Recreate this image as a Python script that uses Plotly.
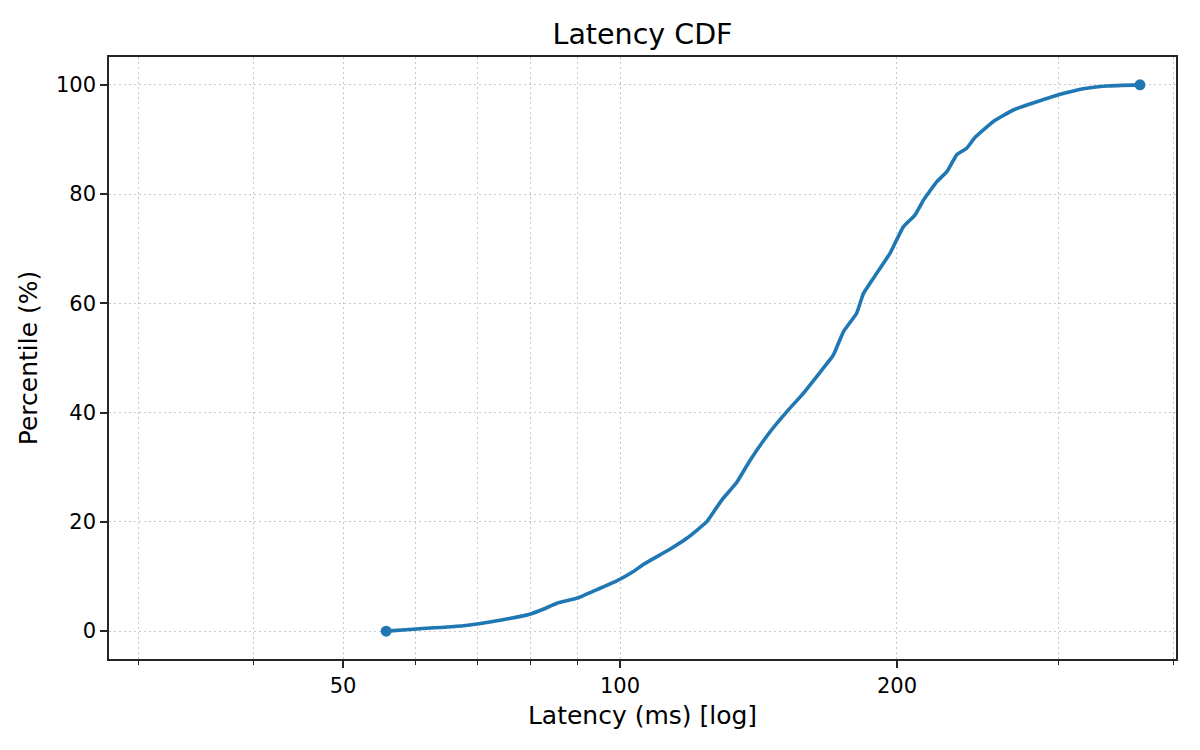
"""Latency CDF chart, log-scaled latency axis"""

import plotly.graph_objects as go

# latency (ms) at each percentile
latency_ms = [
    55.7, 60.1, 67.6, 74.6, 79.8, 82.5, 85.4, 90.1, 93.2, 99.2,
    103.4, 106.0, 113.3, 118.2, 124.2, 129.0, 133.9, 138.5, 145.6, 152.4,
    157.6, 165.7, 170.5, 174.9, 180.8, 183.9, 190.1, 196.6, 203.2, 209.3,
    213.7, 221.0, 226.6, 232.3, 238.1, 243.2, 254.6, 267.6, 283.8, 304.5,
    318.8, 338.1, 367.4,
]
percentile = [
    0.0, 0.4, 1.0, 2.1, 3.1, 4.0, 5.1, 6.1, 7.2, 9.2,
    10.9, 12.2, 15.0, 17.0, 20.0, 24.0, 27.2, 31.3, 36.5, 40.5,
    43.2, 47.8, 50.5, 54.8, 58.2, 61.8, 65.5, 69.2, 74.0, 76.2,
    78.9, 82.3, 84.1, 87.2, 88.4, 90.4, 93.3, 95.4, 96.9, 98.5,
    99.3, 99.8, 100.0,
]

x_major = [50, 100, 200]
x_minor = [30, 40, 60, 70, 80, 90, 300, 400]
y_ticks = [0, 20, 40, 60, 80, 100]

BLUE = "#1f77b4"
FONT = "DejaVu Sans"
GRID = "#c8c8c8"
AXIS = "#262626"
DOTS = "2px,3px"

fig = go.Figure()
fig.add_scatter(
    x=latency_ms,
    y=percentile,
    mode="lines",
    line={"color": BLUE, "width": 3.6, "shape": "spline", "smoothing": 0.4},
    showlegend=False,
)
# end markers at the first and last sample
fig.add_scatter(
    x=[latency_ms[0], latency_ms[-1]],
    y=[percentile[0], percentile[-1]],
    mode="markers",
    marker={"color": BLUE, "size": 11},
    showlegend=False,
)

fig.update_layout(
    width=1200,
    height=750,
    margin={"l": 101, "r": 32, "t": 49, "b": 99},
    paper_bgcolor="white",
    plot_bgcolor="white",
    font={"family": FONT, "color": "black", "size": 21},
    title={
        "text": "Latency CDF",
        "x": 0.5,
        "xanchor": "center",
        "xref": "paper",
        "y": 1 - 26 / 750,
        "yanchor": "middle",
        "font": {"size": 28.5, "family": FONT, "color": "black"},
    },
)

fig.update_xaxes(
    type="log",
    range=[1.4446, 2.6043],
    tickvals=x_major,
    ticktext=[str(v) for v in x_major],
    ticks="outside",
    ticklen=7,
    tickwidth=1.5,
    tickcolor=AXIS,
    showline=True,
    linecolor=AXIS,
    linewidth=1.6,
    mirror=True,
    showgrid=True,
    gridcolor=GRID,
    griddash=DOTS,
    gridwidth=1,
    zeroline=False,
    minor={
        "tickvals": x_minor,
        "ticks": "outside",
        "ticklen": 4,
        "tickwidth": 1,
        "tickcolor": AXIS,
        "showgrid": True,
        "gridcolor": GRID,
        "griddash": DOTS,
        "gridwidth": 1,
    },
    title={"text": "Latency (ms) [log]", "font": {"size": 25}, "standoff": 9},
    tickfont={"size": 21},
)
fig.update_yaxes(
    range=[-5.1, 105.1],
    tickvals=y_ticks,
    ticks="outside",
    ticklen=7,
    tickwidth=1.5,
    tickcolor=AXIS,
    showline=True,
    linecolor=AXIS,
    linewidth=1.6,
    mirror=True,
    showgrid=True,
    gridcolor=GRID,
    griddash=DOTS,
    gridwidth=1,
    zeroline=False,
    title={"text": "Percentile (%)", "font": {"size": 25}, "standoff": 11},
    tickfont={"size": 21},
)

fig.write_html("out.html")
